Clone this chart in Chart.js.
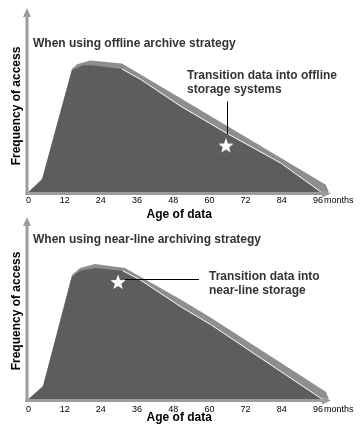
<!DOCTYPE html>
<html><head><meta charset="utf-8">
<script src="https://cdn.jsdelivr.net/npm/chart.js@4.4.1/dist/chart.umd.min.js"></script>
<style>
html,body{margin:0;padding:0;background:#fff;}
#wrap{position:relative;width:362px;height:434px;overflow:hidden;}
canvas{position:absolute;left:0;top:0;}
</style></head><body>
<div id="wrap"><canvas id="c1" width="362" height="434"></canvas><canvas id="c2" width="362" height="434"></canvas></div>
<script>
// ---------- data ----------
const xTicks = [0, 12, 24, 36, 48, 60, 72, 84, 96];
const xUnit = 'months';
const xTitle = 'Age of data';
const yTitle = 'Frequency of access';

const topTitle = 'When using offline archive strategy';
const topNote = ['Transition data into offline', 'storage systems'];
const topDarkMonths = [0, 4.5, 14.4, 18.1, 21.1, 31.0, 37.0, 50.6, 66.1, 83.7, 97.0];
const topDarkValues = [0, 6.6, 66.2, 68.9, 68.9, 66.8, 61.4, 46.5, 31.6, 15.7, 0];
const topLightMonths = [0, 4.5, 14.4, 16.1, 20.4, 31.0, 50.6, 98.6, 99.6];
const topLightValues = [0, 7.2, 66.8, 69.4, 71.5, 69.9, 50.8, 4.0, 0];
const topStarMonth = [65.5];
const topStarValue = [25.3];

const botTitle = 'When using near-line archiving strategy';
const botNote = ['Transition data into', 'near-line storage'];
const botDarkMonths = [0, 4.8, 14.4, 17.1, 22.0, 31.3, 37.0, 50.6, 60.5, 97.3];
const botDarkValues = [0, 6.7, 67.1, 70.4, 72.0, 70.4, 65.5, 50.6, 40.8, 0];
const botLightMonths = [0, 4.8, 14.4, 17.1, 22.0, 32.0, 50.6, 60.5, 98.6, 99.6];
const botLightValues = [0, 7.3, 68.2, 72.0, 74.2, 72.0, 54.5, 44.6, 4.0, 0];
const botStarMonth = [29.7];
const botStarValue = [64.3];

// index in the dark series where the thin white edge begins
const edgeStart = 5;

// ---------- helpers ----------
const FONT = "'Liberation Sans', Arial, Helvetica, sans-serif";
const pts = (xs, ys) => xs.map((x, i) => ({x: x, y: ys[i]}));

function dither(c1, c2) {
  const p = document.createElement('canvas'); p.width = 2; p.height = 2;
  const g = p.getContext('2d');
  g.fillStyle = c1; g.fillRect(0, 0, 2, 2);
  g.fillStyle = c2; g.fillRect(0, 0, 1, 1); g.fillRect(1, 1, 1, 1);
  return g.createPattern(p, 'repeat');
}
function starImage(size) {
  const c = document.createElement('canvas'); c.width = size; c.height = size;
  const g = c.getContext('2d');
  const cx = size / 2, cy = size / 2 + 0.6, R = size / 2, r = R * 0.42;
  g.beginPath();
  for (let i = 0; i < 10; i++) {
    const a = -Math.PI / 2 + i * Math.PI / 5;
    const rad = i % 2 ? r : R;
    g.lineTo(cx + rad * Math.cos(a), cy + rad * Math.sin(a));
  }
  g.closePath(); g.fillStyle = '#fff'; g.fill();
  return c;
}
const STAR = starImage(16);
const DARK = dither('#565656', '#646464');
const LIGHT = '#8e8e8e';
const AXIS = '#9c9c9c';

const axesPlugin = {
  id: 'axesArrows',
  afterDatasetsDraw(chart) {
    const ctx = chart.ctx, ca = chart.chartArea;
    ctx.save();
    ctx.fillStyle = AXIS;
    const ax = ca.left - 1.5;
    ctx.fillRect(ax - 1.5, ca.top + 7, 3, ca.bottom + 3 - (ca.top + 7));
    ctx.beginPath();
    ctx.moveTo(ax, ca.top); ctx.lineTo(ax - 4, ca.top + 9); ctx.lineTo(ax + 4, ca.top + 9);
    ctx.closePath(); ctx.fill();
    const ay = ca.bottom + 1.5;
    ctx.fillRect(ax - 1.5, ay - 1.5, ca.right - 7 - (ax - 1.5), 3);
    ctx.beginPath();
    ctx.moveTo(ca.right + 1, ay); ctx.lineTo(ca.right - 8, ay - 4); ctx.lineTo(ca.right - 8, ay + 4);
    ctx.closePath(); ctx.fill();
    ctx.restore();
  }
};

const textPlugin = {
  id: 'texts',
  afterDraw(chart) {
    const o = chart.options.plugins.texts;
    const ctx = chart.ctx, ca = chart.chartArea;
    const xs = chart.scales.x;
    ctx.save();
    ctx.font = 'bold 12px ' + FONT;
    ctx.fillStyle = '#333';
    ctx.textAlign = 'left'; ctx.textBaseline = 'alphabetic';
    ctx.fillText(o.title, ca.left + 4.5, ca.top + o.titleDy);
    ctx.save();
    ctx.translate(20, o.yTitleCenter);
    ctx.rotate(-Math.PI / 2);
    ctx.textAlign = 'center'; ctx.fillStyle = '#000';
    ctx.fillText(yTitle, 0, 0);
    ctx.restore();
    ctx.textAlign = 'center'; ctx.fillStyle = '#000';
    ctx.fillText(xTitle, (ca.left + ca.right) / 2, ca.bottom + o.xTitleDy);
    ctx.font = '9px ' + FONT;
    ctx.textAlign = 'left'; ctx.textBaseline = 'middle';
    ctx.fillText(xUnit, xs.getPixelForValue(xTicks[xTicks.length - 1]) + 6, ca.bottom + o.tickDy);
    const meta = chart.getDatasetMeta(0).data[0];
    ctx.font = 'bold 12px ' + FONT;
    ctx.fillStyle = '#333'; ctx.textBaseline = 'alphabetic';
    ctx.fillText(o.note[0], o.noteX, o.noteY);
    ctx.fillText(o.note[1], o.noteX, o.noteY + 14);
    ctx.strokeStyle = '#000'; ctx.lineWidth = 1;
    ctx.beginPath();
    if (o.leader === 'up') {
      const lx = Math.round(meta.x + 1) + 0.5;
      ctx.moveTo(lx, meta.y - 11); ctx.lineTo(lx, o.noteY + 23);
    } else {
      const ly = Math.round(meta.y - 3) + 0.5;
      ctx.moveTo(meta.x + 7, ly); ctx.lineTo(o.noteX - 10, ly);
    }
    ctx.stroke();
    ctx.restore();
  }
};

function makeChart(id, d) {
  return new Chart(document.getElementById(id), {
    type: 'line',
    data: {
      datasets: [
        { data: pts(d.starM, d.starV), showLine: false, pointStyle: STAR, pointRadius: 8, pointHoverRadius: 8, borderWidth: 0 },
        { data: pts(d.darkM.slice(edgeStart), d.darkV.slice(edgeStart)), fill: false, borderColor: '#ffffff', borderWidth: 1, pointRadius: 0, tension: 0 },
        { data: pts(d.darkM, d.darkV), fill: 'origin', backgroundColor: DARK, borderWidth: 0, pointRadius: 0, tension: 0 },
        { data: pts(d.lightM, d.lightV), fill: 'origin', backgroundColor: LIGHT, borderWidth: 0, pointRadius: 0, tension: 0 }
      ]
    },
    options: {
      responsive: false, animation: false, devicePixelRatio: 1,
      layout: { padding: d.padding },
      plugins: { legend: { display: false }, tooltip: { enabled: false }, texts: d.texts },
      scales: {
        x: {
          type: 'linear', min: 0, max: 100,
          grid: { display: false, drawTicks: false }, border: { display: false },
          afterBuildTicks: s => { s.ticks = xTicks.map(v => ({ value: v })); },
          afterFit: s => { s.height = 20; },
          ticks: { font: { family: FONT, size: 9 }, color: '#000', padding: d.tickPad, maxRotation: 0, autoSkip: false }
        },
        y: { display: false, min: 0, max: 100 }
      }
    },
    plugins: [axesPlugin, textPlugin]
  });
}

makeChart('c1', {
  starM: topStarMonth, starV: topStarValue,
  darkM: topDarkMonths, darkV: topDarkValues,
  lightM: topLightMonths, lightV: topLightValues,
  padding: { left: 28.5, right: 32, top: 4.5, bottom: 434 - 192 - 20 },
  tickPad: 3,
  texts: { title: topTitle, titleDy: 39, yTitleCenter: 106, xTitleDy: 26, tickDy: 8.7,
           note: topNote, noteX: 187, noteY: 78.5, leader: 'up' }
});
makeChart('c2', {
  starM: botStarMonth, starV: botStarValue,
  darkM: botDarkMonths, darkV: botDarkValues,
  lightM: botLightMonths, lightV: botLightValues,
  padding: { left: 28.5, right: 32, top: 217, bottom: 434 - 399 - 20 },
  tickPad: 5,
  texts: { title: botTitle, titleDy: 25.5, yTitleCenter: 311, xTitleDy: 21.5, tickDy: 10.7,
           note: botNote, noteX: 209, noteY: 279.5, leader: 'side' }
});
</script>
</body></html>
